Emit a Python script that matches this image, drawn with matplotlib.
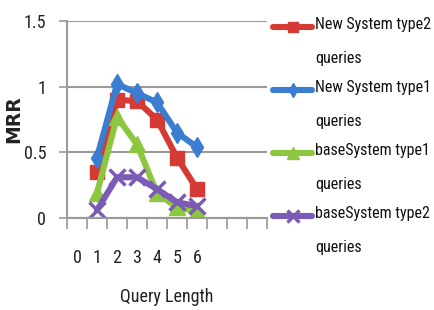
import matplotlib
matplotlib.use("Agg")
import matplotlib.pyplot as plt
from matplotlib import font_manager as fm
from matplotlib.font_manager import FontProperties
from matplotlib.legend_handler import HandlerLine2D
import numpy as np

# ---------------- data ----------------
categories = ["0", "1", "2", "3", "4", "5", "6", "", "", ""]
query_length = [1, 2, 3, 4, 5, 6]
new_type2 = [0.35, 0.90, 0.89, 0.75, 0.46, 0.22]
new_type1 = [0.46, 1.02, 0.95, 0.88, 0.65, 0.54]
base_type1 = [0.19, 0.77, 0.56, 0.19, 0.08, 0.05]
base_type2 = [0.06, 0.31, 0.31, 0.22, 0.12, 0.09]
series_labels = ["New System type2\nqueries", "New System type1\nqueries",
                 "baseSystem type1\nqueries", "baseSystem type2\nqueries"]
y_ticks = [0, 0.5, 1, 1.5]
y_ticklabels = ["0", "0.5", "1", "1.5"]

# ---------------- fonts ----------------
def find_condensed():
    prefs = ["Liberation Sans Narrow", "Roboto Condensed", "DejaVu Sans Condensed",
             "Noto Sans Condensed", "Open Sans Condensed", "DejaVu Sans", "Noto Sans", "Open Sans"]
    cands = []
    for f in fm.fontManager.ttflist:
        st = str(f.stretch)
        cond = ("Narrow" in f.name or "Condensed" in f.name or
                st in ("condensed", "semi-condensed", "extra-condensed", "ultra-condensed"))
        if not cond:
            continue
        if f.style != "normal":
            continue
        w = f.weight if isinstance(f.weight, int) else {"normal": 400, "regular": 400, "bold": 700}.get(str(f.weight), 400)
        if w != 400:
            continue
        rank = len(prefs)
        for i, p in enumerate(prefs):
            if f.name == p:
                rank = i
                break
        cands.append((rank, f.fname))
    if cands:
        cands.sort()
        return cands[0][1]
    return None

cond_file = find_condensed()

def fprop(size):
    if cond_file:
        return FontProperties(fname=cond_file, size=size)
    return FontProperties(family="DejaVu Sans", size=size)

# ---------------- figure ----------------
W, H = 434, 310
fig = plt.figure(figsize=(W / 100, H / 100), dpi=100)
fig.patch.set_facecolor("white")

ax_left, ax_right, ax_top, ax_bottom = 67, 267, 21, 218
ax = fig.add_axes([ax_left / W, 1 - ax_bottom / H, (ax_right - ax_left) / W, (ax_bottom - ax_top) / H])

grid_c = "#9a9a9a"
colors = ["#d63a35", "#3b7dd0", "#8dc63f", "#7b5bb5"]
markers = ["s", "d", "^", "x"]
msizes = [9.5, 10, 11, 12]
values = [new_type2, new_type1, base_type1, base_type2]

xpos = [categories.index(str(q)) for q in query_length]
handles = []
for vals, c, m, ms in zip(values, colors, markers, msizes):
    mew = 2.5 if m == "x" else 1
    h, = ax.plot(xpos, vals, color=c, lw=4.4, marker=m, ms=ms, mec=c, mfc=c, mew=mew,
                 solid_joinstyle="round", solid_capstyle="round")
    handles.append(h)

ax.set_xlim(-0.5, len(categories) - 0.5)
ax.set_ylim(0, 1.5)
ax.set_yticks(y_ticks)
ax.set_yticklabels(y_ticklabels, fontproperties=fprop(13), color="#222222")
ax.set_xticks(range(len(categories)))
ax.set_xticklabels(categories, fontproperties=fprop(13), color="#222222")
ax.set_xticks(np.arange(-0.5, len(categories), 1.0), minor=True)
ax.tick_params(axis="x", which="major", length=0, pad=22)
ax.tick_params(axis="x", which="minor", length=8, width=1.2, color=grid_c, direction="out")
ax.tick_params(axis="y", which="major", length=6, width=1.2, color=grid_c, direction="out", pad=9)

ax.grid(axis="y", color=grid_c, lw=1.5)
ax.set_axisbelow(True)
for s in ["top", "right"]:
    ax.spines[s].set_visible(False)
for s in ["left", "bottom"]:
    ax.spines[s].set_color(grid_c)
    ax.spines[s].set_linewidth(1.5)

fig.text(14 / W, 1 - 119 / H, "MRR", rotation=90, ha="center", va="center",
         family="DejaVu Sans", weight="bold", fontsize=13.5, color="#222222")
fig.text(167 / W, 1 - 297 / H, "Query Length", ha="center", va="center",
         fontproperties=fprop(13), color="#222222")

# ---------------- legend ----------------
class TopLine(HandlerLine2D):
    def __init__(self, shift, **kw):
        super().__init__(**kw)
        self.shift = shift

    def create_artists(self, legend, orig_handle, xdescent, ydescent, width, height, fontsize, trans):
        arts = super().create_artists(legend, orig_handle, xdescent, ydescent, width, height, fontsize, trans)
        for a in arts:
            a.set_ydata(np.asarray(a.get_ydata()) + self.shift)
        return arts

leg_fs = 11.5
linesp = 2.56
shift_pts = 0.5 * linesp * 0.726 * leg_fs
leg = fig.legend(handles, series_labels, loc="upper left",
                 bbox_to_anchor=(273 / W, 1 - 17 / H), frameon=False,
                 prop=fprop(leg_fs), handlelength=2.45, handletextpad=0.2,
                 labelspacing=0.9, borderpad=0, borderaxespad=0, markerscale=0.75,
                 handler_map={h: TopLine(shift_pts) for h in handles})
for t in leg.get_texts():
    t.set_linespacing(linesp)
    t.set_color("#111111")

fig.savefig("out.png", dpi=100)
